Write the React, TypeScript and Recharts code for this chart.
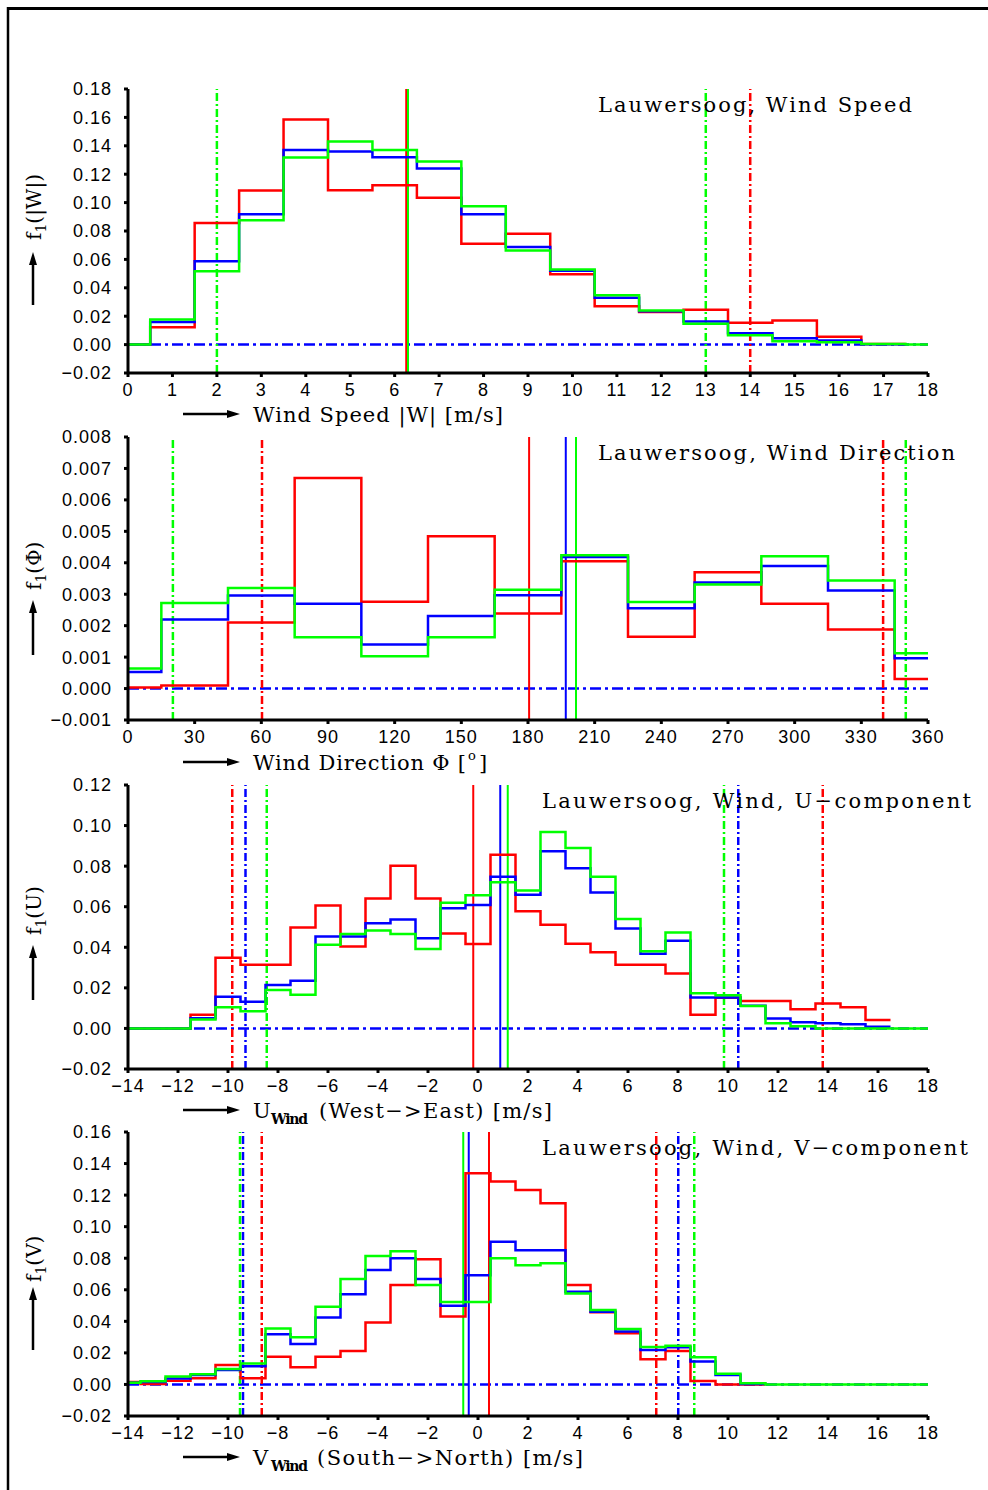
import React from 'react'
import { ComposedChart, Line, XAxis, YAxis, ReferenceLine } from 'recharts'

const RED = '#ff0000'
const BLUE = '#0000ff'
const GREEN = '#00ff00'
const COLORS = [RED, BLUE, GREEN]

// ---- wind speed |W|, bins of 1 m/s centred on whole numbers
const speedBins = [0, 1, 2, 3, 4, 5, 6, 7, 8, 9, 10, 11, 12, 13, 14, 15, 16, 17, 18]
const speedRed = [0, 0.0122, 0.0857, 0.1085, 0.1585, 0.1087, 0.1122, 0.1035, 0.0711, 0.078, 0.0495, 0.027, 0.023, 0.0246, 0.0153, 0.0169, 0.0056, 0.0005]
const speedBlue = [0, 0.016, 0.0587, 0.0918, 0.137, 0.136, 0.132, 0.124, 0.0918, 0.0688, 0.052, 0.033, 0.0235, 0.0162, 0.008, 0.0045, 0.0028, 0.0003]
const speedGreen = [0, 0.0176, 0.0516, 0.0876, 0.1317, 0.143, 0.137, 0.129, 0.0974, 0.0662, 0.0528, 0.0347, 0.024, 0.0146, 0.0066, 0.0024, 0.0017, 0.0005, 0]
const speedMean = [6.26, null, 6.3]
const speedLow = [null, null, 2.0]
const speedHigh = [14.0, null, 13.0]
const speedXTicks = [0, 1, 2, 3, 4, 5, 6, 7, 8, 9, 10, 11, 12, 13, 14, 15, 16, 17, 18]
const speedYTicks = [-0.02, 0, 0.02, 0.04, 0.06, 0.08, 0.1, 0.12, 0.14, 0.16, 0.18]

// ---- wind direction, 30 degree sectors (first and last clipped at 0 / 360)
const dirBins = [0, 30, 60, 90, 120, 150, 180, 210, 240, 270, 300, 330, 360]
const dirRed = [0.00003, 0.0001, 0.0021, 0.0067, 0.00276, 0.00484, 0.00239, 0.00405, 0.00165, 0.0037, 0.0027, 0.00188, 0.0003]
const dirBlue = [0.00053, 0.0022, 0.00296, 0.0027, 0.0014, 0.00231, 0.00297, 0.00418, 0.00255, 0.00337, 0.0039, 0.00312, 0.00096]
const dirGreen = [0.00064, 0.00272, 0.0032, 0.00163, 0.00103, 0.00163, 0.00314, 0.00424, 0.00275, 0.00331, 0.00421, 0.00344, 0.00112]
const dirMean = [180.5, 197, 201.6]
const dirLow = [60.3, null, 20.2]
const dirHigh = [339.8, null, 350]
const dirXTicks = [0, 30, 60, 90, 120, 150, 180, 210, 240, 270, 300, 330, 360]
const dirYTicks = [-0.001, 0, 0.001, 0.002, 0.003, 0.004, 0.005, 0.006, 0.007, 0.008]

// ---- U component (west -> east)
const uBins = [-14, -13, -12, -11, -10, -9, -8, -7, -6, -5, -4, -3, -2, -1, 0, 1, 2, 3, 4, 5, 6, 7, 8, 9, 10, 11, 12, 13, 14, 15, 16, 17, 18]
const uRed = [0, 0, 0, 0.0067, 0.0348, 0.0314, 0.0314, 0.0498, 0.0606, 0.0404, 0.0641, 0.0802, 0.0641, 0.0468, 0.0416, 0.0856, 0.0578, 0.0511, 0.0417, 0.0375, 0.0314, 0.0314, 0.0271, 0.0067, 0.0151, 0.0135, 0.0135, 0.0095, 0.0123, 0.0105, 0.0041]
const uBlue = [0, 0, 0, 0.005, 0.0156, 0.0131, 0.0214, 0.0235, 0.0453, 0.0453, 0.0518, 0.0537, 0.0444, 0.0592, 0.0608, 0.0748, 0.0659, 0.0873, 0.079, 0.067, 0.0493, 0.0368, 0.0432, 0.0153, 0.0153, 0.0112, 0.0049, 0.0031, 0.0026, 0.0021, 0.0008]
const uGreen = [0, 0, 0, 0.0044, 0.0105, 0.0085, 0.019, 0.0166, 0.0412, 0.0466, 0.0483, 0.0466, 0.0391, 0.062, 0.0656, 0.0721, 0.068, 0.0968, 0.0889, 0.0748, 0.054, 0.038, 0.0473, 0.0174, 0.0163, 0.011, 0.0025, 0.0011, 0, 0, 0, 0, 0]
const uMean = [-0.19, 0.89, 1.19]
const uLow = [-9.83, -9.3, -8.45]
const uHigh = [13.79, 10.41, 9.84]
const compXTicks = [-14, -12, -10, -8, -6, -4, -2, 0, 2, 4, 6, 8, 10, 12, 14, 16, 18]
const uYTicks = [-0.02, 0, 0.02, 0.04, 0.06, 0.08, 0.1, 0.12]

// ---- V component (south -> north)
const vBins = uBins
const vRed = [0.0016, 0.0003, 0.0024, 0.0039, 0.0124, 0.0039, 0.0176, 0.0109, 0.0176, 0.0212, 0.0392, 0.0631, 0.0793, 0.043, 0.1338, 0.1286, 0.1233, 0.1148, 0.0631, 0.0458, 0.0324, 0.016, 0.0212, 0.0022, 0, 0]
const vBlue = [0.001, 0.0015, 0.0037, 0.006, 0.0092, 0.0115, 0.0318, 0.0257, 0.0424, 0.0572, 0.0726, 0.08, 0.0669, 0.0498, 0.0692, 0.0905, 0.085, 0.085, 0.0588, 0.0461, 0.0335, 0.0219, 0.0236, 0.0145, 0.006, 0.0003]
const vGreen = [0.0011, 0.002, 0.005, 0.0065, 0.0098, 0.0132, 0.0354, 0.0299, 0.0493, 0.0669, 0.0814, 0.0844, 0.063, 0.0523, 0.0523, 0.08, 0.0755, 0.0768, 0.0576, 0.0472, 0.0352, 0.0238, 0.0246, 0.0172, 0.0068, 0.0008, 0, 0, 0, 0, 0, 0, 0]
const vMean = [0.44, -0.37, -0.59]
const vLow = [-8.65, -9.4, -9.52]
const vHigh = [7.13, 8.01, 8.65]
const vYTicks = [-0.02, 0, 0.02, 0.04, 0.06, 0.08, 0.1, 0.12, 0.14, 0.16]

type Pt = { x: number; y: number }

// histogram values -> step points at the bin edges
function steps(bins: number[], values: number[], width: number, lo: number, hi: number): Pt[] {
  const pts: Pt[] = values.map((v, i) => ({ x: Math.max(bins[i] - width / 2, lo), y: v }))
  const last = values.length - 1
  pts.push({ x: Math.min(bins[last] + width / 2, hi), y: values[last] })
  return pts
}

const fmt = (v: number, d: number) => (v < -1e-9 ? '\u2212' : '') + Math.abs(v).toFixed(d)

const tickStyle = { fill: '#000', fontSize: 18, fontFamily: 'Liberation Sans', letterSpacing: 1 }
const axisStyle = { stroke: '#000', strokeWidth: 3 }

type PanelProps = {
  top: number
  plotH: number
  xTicks: number[]
  yTicks: number[]
  yDec: number
  series: Pt[][]
  means: (number | null)[]
  lows: (number | null)[]
  highs: (number | null)[]
}

function Panel({ top, plotH, xTicks, yTicks, yDec, series, means, lows, highs }: PanelProps) {
  const xDomain = [xTicks[0], xTicks[xTicks.length - 1]]
  const yDomain = [yTicks[0], yTicks[yTicks.length - 1]]
  const marks: React.ReactNode[] = []
  COLORS.forEach((c, i) => {
    ;[lows[i], highs[i]].forEach((x, j) => {
      if (x != null)
        marks.push(<ReferenceLine key={`d${i}${j}`} x={x} stroke={c} strokeWidth={2.5} strokeDasharray="8 3 2 3" />)
    })
    if (means[i] != null) marks.push(<ReferenceLine key={`m${i}`} x={means[i] as number} stroke={c} strokeWidth={2} />)
  })
  return (
    <div style={{ position: 'absolute', left: 0, top: top - 20 }}>
      <ComposedChart width={988} height={plotH + 60} margin={{ top: 20, right: 60, bottom: 10, left: 0 }}>
        <XAxis
          type="number"
          dataKey="x"
          domain={xDomain}
          ticks={xTicks}
          interval={0}
          allowDataOverflow
          axisLine={axisStyle}
          tickLine={axisStyle}
          tickSize={4}
          tickMargin={6}
          tick={tickStyle}
          tickFormatter={(v: number) => fmt(v, 0)}
        />
        <YAxis
          type="number"
          domain={yDomain}
          ticks={yTicks}
          interval={0}
          width={128}
          allowDataOverflow
          axisLine={axisStyle}
          tickLine={axisStyle}
          tickSize={4}
          tickMargin={12}
          tick={tickStyle}
          tickFormatter={(v: number) => fmt(v, yDec)}
        />
        <ReferenceLine y={0} stroke={BLUE} strokeWidth={2.5} strokeDasharray="11 4 3 4" />
        {marks}
        {series.map((pts, i) => (
          <Line
            key={i}
            data={pts}
            dataKey="y"
            type="stepAfter"
            stroke={COLORS[i]}
            strokeWidth={2.5}
            dot={false}
            activeDot={false}
            isAnimationActive={false}
          />
        ))}
      </ComposedChart>
    </div>
  )
}

const serif = 'DejaVu Serif'

function XLabel({ y, children }: { y: number; children: React.ReactNode }) {
  return (
    <g>
      <line x1={183} y1={y} x2={230} y2={y} stroke="#000" strokeWidth={2.5} />
      <path d={`M240 ${y} L227 ${y - 4} L227 ${y + 4} Z`} fill="#000" />
      {children}
    </g>
  )
}

function YLabel({ x, y0, tail, tip, sym }: { x: number; y0: number; tail: number; tip: number; sym: string }) {
  return (
    <g>
      <line x1={33} y1={tail} x2={33} y2={tip + 10} stroke="#000" strokeWidth={2.5} />
      <path d={`M33 ${tip} L29 ${tip + 13} L37 ${tip + 13} Z`} fill="#000" />
      <text transform={`rotate(-90 ${x} ${y0})`} x={x} y={y0} fontFamily={serif} fontSize={20} fontWeight={300}>
        f<tspan dy={5} fontSize={14}>1</tspan>
        <tspan dy={-5}>{sym}</tspan>
      </text>
    </g>
  )
}

function Title({ x, y, len, text }: { x: number; y: number; len: number; text: string }) {
  return (
    <text x={x} y={y} fontFamily={serif} fontSize={21} textLength={len} lengthAdjust="spacing">
      {text}
    </text>
  )
}

export default function App() {
  return (
    <div style={{ position: 'absolute', left: 0, top: 0, width: 988, height: 1490, background: '#fff', overflow: 'hidden' }}>
      <Panel
        top={89}
        plotH={284}
        xTicks={speedXTicks}
        yTicks={speedYTicks}
        yDec={2}
        series={[
          steps(speedBins, speedRed, 1, 0, 18),
          steps(speedBins, speedBlue, 1, 0, 18),
          steps(speedBins, speedGreen, 1, 0, 18),
        ]}
        means={speedMean}
        lows={speedLow}
        highs={speedHigh}
      />
      <Panel
        top={437}
        plotH={283}
        xTicks={dirXTicks}
        yTicks={dirYTicks}
        yDec={3}
        series={[
          steps(dirBins, dirRed, 30, 0, 360),
          steps(dirBins, dirBlue, 30, 0, 360),
          steps(dirBins, dirGreen, 30, 0, 360),
        ]}
        means={dirMean}
        lows={dirLow}
        highs={dirHigh}
      />
      <Panel
        top={785}
        plotH={284}
        xTicks={compXTicks}
        yTicks={uYTicks}
        yDec={2}
        series={[
          steps(uBins, uRed, 1, -14, 18),
          steps(uBins, uBlue, 1, -14, 18),
          steps(uBins, uGreen, 1, -14, 18),
        ]}
        means={uMean}
        lows={uLow}
        highs={uHigh}
      />
      <Panel
        top={1132}
        plotH={284}
        xTicks={compXTicks}
        yTicks={vYTicks}
        yDec={2}
        series={[
          steps(vBins, vRed, 1, -14, 18),
          steps(vBins, vBlue, 1, -14, 18),
          steps(vBins, vGreen, 1, -14, 18),
        ]}
        means={vMean}
        lows={vLow}
        highs={vHigh}
      />

      <svg width={988} height={1490} style={{ position: 'absolute', left: 0, top: 0, pointerEvents: 'none' }}>
        <line x1={7} y1={8.5} x2={988} y2={8.5} stroke="#000" strokeWidth={3} />
        <line x1={8} y1={7} x2={8} y2={1490} stroke="#000" strokeWidth={2.5} />

        <Title x={598} y={112} len={314} text="Lauwersoog, Wind Speed" />
        <Title x={598} y={460} len={357} text="Lauwersoog, Wind Direction" />
        <Title x={542} y={808} len={429} text={'Lauwersoog, Wind, U\u2212component'} />
        <Title x={542} y={1155} len={426} text={'Lauwersoog, Wind, V\u2212component'} />

        <XLabel y={414}>
          <text x={253} y={422} fontFamily={serif} fontSize={21} textLength={250} lengthAdjust="spacing">
            Wind Speed |W| [m/s]
          </text>
        </XLabel>
        <XLabel y={762}>
          <text x={253} y={770} fontFamily={serif} fontSize={21} textLength={213} lengthAdjust="spacing">
            {'Wind Direction \u03a6 ['}
          </text>
          <text x={468} y={760} fontFamily={serif} fontSize={13}>o</text>
          <text x={479} y={770} fontFamily={serif} fontSize={21}>]</text>
        </XLabel>
        <XLabel y={1110}>
          <text x={253} y={1118} fontFamily={serif} fontSize={21}>U</text>
          <text x={271} y={1124} fontFamily={serif} fontSize={14} fontWeight="bold" textLength={37} lengthAdjust="spacing">Wind</text>
          <text x={319} y={1118} fontFamily={serif} fontSize={21} textLength={233} lengthAdjust="spacing">
            {'(West\u2212>East) [m/s]'}
          </text>
        </XLabel>
        <XLabel y={1457}>
          <text x={253} y={1465} fontFamily={serif} fontSize={21}>V</text>
          <text x={271} y={1471} fontFamily={serif} fontSize={14} fontWeight="bold" textLength={37} lengthAdjust="spacing">Wind</text>
          <text x={317} y={1465} fontFamily={serif} fontSize={21} textLength={266} lengthAdjust="spacing">
            {'(South\u2212>North) [m/s]'}
          </text>
        </XLabel>

        <YLabel x={41} y0={240} tail={305} tip={252} sym="(|W|)" />
        <YLabel x={41} y0={590} tail={655} tip={600} sym={'(\u03a6)'} />
        <YLabel x={41} y0={935} tail={1000} tip={945} sym="(U)" />
        <YLabel x={41} y0={1282} tail={1350} tip={1287} sym="(V)" />
      </svg>
    </div>
  )
}
